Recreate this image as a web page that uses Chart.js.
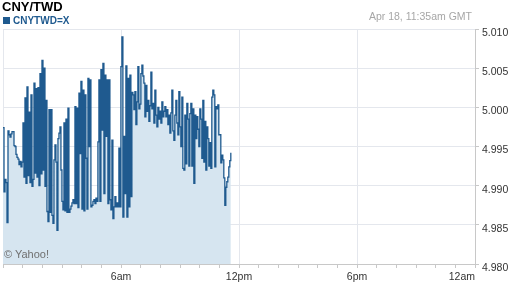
<!DOCTYPE html>
<html>
<head>
<meta charset="utf-8">
<script src="https://cdn.jsdelivr.net/npm/chart.js@4.4.1/dist/chart.umd.min.js"></script>
<style>
  body { margin: 0; background: #fff; }
  #wrap { position: relative; width: 512px; height: 288px; font-family: Arial, "Liberation Sans", sans-serif; }
  #c { position: absolute; left: 0; top: 0; }
  .t { position: absolute; white-space: nowrap; }
</style>
</head>
<body>
<div id="wrap">
  <canvas id="c" width="512" height="288"></canvas>
  <div class="t" style="left:2px; top:0; font:bold 13px/13px Arial,'Liberation Sans',sans-serif; color:#000;">CNY/TWD</div>
  <div style="position:absolute; left:3px; top:17px; width:7px; height:7px; background:#1f5a8f;"></div>
  <div class="t" style="left:13px; top:15.5px; font:bold 10px/10px Arial,'Liberation Sans',sans-serif; color:#1f5a8f;">CNYTWD=X</div>
  <div class="t" style="right:40px; top:11px; font:10.5px/11px Arial,'Liberation Sans',sans-serif; color:#a6a6a6;">Apr 18, 11:35am GMT</div>
  <div class="t" style="left:4px; top:249px; font:11px/11px Arial,'Liberation Sans',sans-serif; color:#707070;">© Yahoo!</div>
</div>
<script>
// session runs from midnight to the last quote at 11:35am GMT
const startHour = 0;
const endHour = 11 + 35 / 60;

// CNY/TWD quotes left to right
const rates = [
  4.9974, 4.9892, 4.9908, 4.9904, 4.9853, 4.9970, 4.9965, 4.9962, 4.9966, 4.9969,
  4.9969, 4.9951, 4.9950, 4.9940, 4.9936, 4.9934, 4.9927, 4.9931, 4.9924, 4.9930,
  4.9980, 4.9911, 5.0012, 4.9903, 5.0026, 4.9913, 4.9994, 4.9904, 5.0016, 4.9899,
  4.9908, 5.0031, 4.9916, 5.0024, 4.9911, 5.0025, 4.9900, 5.0043, 4.9915, 5.0060,
  4.9920, 5.0050, 4.9899, 5.0009, 4.9867, 4.9854, 4.9997, 4.9866, 4.9997, 4.9862,
  4.9852, 4.9933, 4.9952, 4.9930, 4.9843, 4.9960, 4.9967, 4.9975, 4.9920, 4.9880,
  4.9869, 4.9980, 4.9868, 4.9985, 4.9866, 4.9999, 4.9866, 4.9870, 4.9874, 4.9878,
  4.9882, 4.9877, 5.0001, 4.9877, 4.9999, 4.9872, 5.0018, 4.9941, 5.0033, 4.9870,
  5.0022, 4.9868, 5.0016, 4.9935, 4.9870, 5.0037, 4.9950, 5.0035, 4.9873, 4.9875,
  4.9880, 4.9882, 4.9877, 4.9884, 4.9880, 4.9956, 5.0035, 4.9880, 5.0048, 4.9971,
  5.0056, 4.9890, 5.0041, 4.9963, 5.0035, 4.9877, 5.0035, 4.9882, 4.9869, 4.9958,
  4.9858, 4.9873, 4.9886, 4.9873, 4.9878, 4.9873, 4.9948, 4.9873, 5.0052, 5.0090,
  4.9860, 4.9963, 4.9890, 5.0053, 4.9860, 5.0037, 4.9873, 5.0041, 4.9886, 5.0019,
  5.0016, 4.9997, 5.0020, 4.9978, 5.0007, 5.0052, 4.9998, 5.0004, 5.0043, 5.0054,
  5.0040, 5.0031, 4.9988, 5.0028, 4.9995, 5.0009, 4.9982, 5.0002, 5.0045, 4.9998,
  5.0005, 4.9980, 5.0022, 4.9990, 4.9975, 5.0000, 4.9985, 4.9995, 4.9980, 5.0007,
  4.9988, 4.9995, 5.0001, 4.9988, 4.9997, 4.9978, 4.9990, 4.9967, 4.9993, 5.0022,
  4.9970, 4.9958, 4.9990, 5.0009, 4.9980, 4.9965, 5.0020, 4.9975, 4.9950, 5.0013,
  4.9922, 4.9920, 4.9990, 4.9928, 5.0005, 4.9985, 4.9925, 4.9992, 5.0005, 4.9925,
  4.9998, 4.9903, 4.9990, 4.9960, 4.9988, 4.9972, 4.9950, 4.9998, 4.9985, 4.9935,
  5.0009, 4.9930, 4.9982, 4.9920, 4.9975, 4.9960, 4.9925, 4.9955, 4.9922, 5.0013,
  5.0022, 5.0016, 4.9924, 5.0001, 4.9998, 5.0003, 4.9965, 4.9965, 4.9929, 4.9939,
  4.9933, 4.9910, 4.9875, 4.9898, 4.9905, 4.9911, 4.9924, 4.9932, 4.9942
];

const tickHours = [6, 12, 18, 24];
const tickLabels = ['6am', '12pm', '6pm', '12am'];

const lineColor = '#1f5a8f';
const fillColor = '#d6e5f0';
const gridColor = '#e4e7ed';
const axisColor = '#c8c8c8';
const fontFamily = 'Arial, "Liberation Sans", sans-serif';

// spread the quotes evenly over the session
const points = rates.map((v, i) => ({
  x: startHour + (endHour - startHour) * i / (rates.length - 1),
  y: v
}));

new Chart(document.getElementById('c'), {
  type: 'line',
  data: {
    datasets: [{
      data: points,
      borderColor: lineColor,
      borderWidth: 1.3,
      backgroundColor: fillColor,
      fill: 'start',
      stepped: true,
      pointRadius: 0
    }]
  },
  options: {
    responsive: false,
    animation: false,
    layout: { padding: { top: 29, left: 3, right: 0, bottom: 0 } },
    plugins: {
      legend: { display: false },
      tooltip: { enabled: false }
    },
    scales: {
      x: {
        type: 'linear',
        min: 0,
        max: 24,
        grid: {
          color: (ctx) => (ctx.tick && ctx.tick.value % 6 === 0) ? gridColor : 'rgba(0,0,0,0)',
          tickColor: axisColor,
          tickLength: 4
        },
        border: { color: axisColor },
        ticks: {
          stepSize: 1,
          autoSkip: false,
          maxRotation: 0,
          align: 'inner',
          padding: 3,
          color: '#333',
          font: { size: 10.5, family: fontFamily },
          callback(value) {
            const i = tickHours.indexOf(value);
            return i >= 0 ? tickLabels[i] : '';
          }
        },
        afterFit(scale) { scale.height = 24; }
      },
      y: {
        position: 'right',
        min: 4.98,
        max: 5.01,
        grid: { color: gridColor, tickColor: axisColor, tickLength: 4 },
        border: { color: axisColor },
        ticks: {
          stepSize: 0.005,
          padding: 3,
          labelOffset: 4,
          color: '#333',
          font: { size: 10.5, family: fontFamily },
          callback(value) { return value.toFixed(3); }
        },
        afterFit(scale) { scale.width = 37; }
      }
    }
  }
});
</script>
</body>
</html>
